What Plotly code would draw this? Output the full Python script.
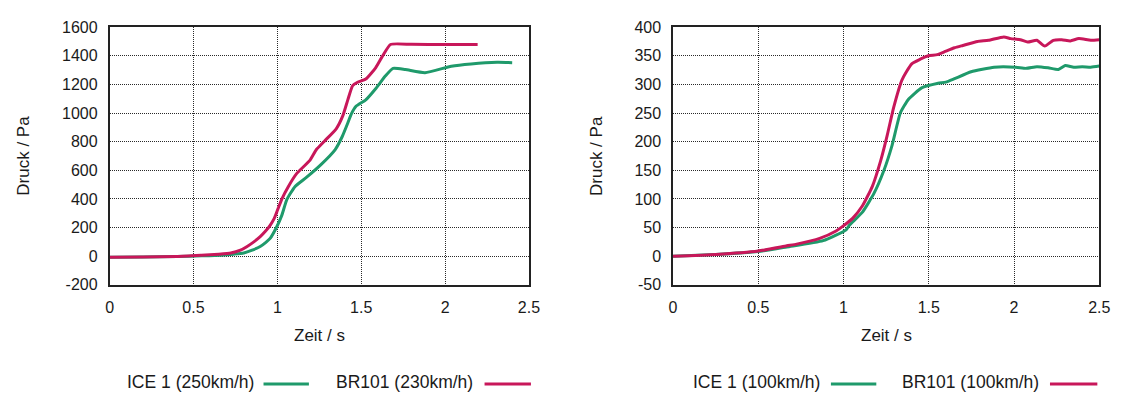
import plotly.graph_objects as go

# ---------------- data ----------------
# Left panel: ICE 1 (250km/h) and BR101 (230km/h)
left_ice_t = [0, 0.2, 0.4, 0.55, 0.665, 0.74, 0.80, 0.85, 0.898, 0.93, 0.957, 0.996, 1.026, 1.057,
              1.106, 1.175, 1.26, 1.345, 1.387, 1.42, 1.44, 1.469, 1.527, 1.586, 1.645, 1.69, 1.763,
              1.88, 2.037, 2.155, 2.31, 2.40]
left_ice_p = [-8, -6, -3, 2, 7, 14, 22, 42, 68, 95, 124, 204, 283, 397,
              487, 552, 640, 745, 836, 930, 991, 1047, 1092, 1170, 1260, 1312, 1304,
              1282, 1327, 1343, 1354, 1352]

left_br_t = [0, 0.2, 0.4, 0.547, 0.65, 0.723, 0.78, 0.82, 0.86, 0.898, 0.93, 0.957, 0.98, 0.996,
             1.026, 1.066, 1.116, 1.194, 1.233, 1.282, 1.351, 1.39, 1.42, 1.449, 1.478, 1.527,
             1.586, 1.625, 1.675, 1.8, 2.0, 2.194]
left_br_p = [-8, -6, -2, 7, 14, 22, 42, 68, 100, 136, 175, 215, 260, 306,
             397, 487, 578, 669, 745, 805, 890, 980, 1092, 1192, 1215, 1237,
             1316, 1394, 1479, 1480, 1479, 1479]

# Right panel: ICE 1 (100km/h) and BR101 (100km/h)
right_ice_t = [0, 0.25, 0.5, 0.667, 0.88, 1.015, 1.034, 1.111, 1.179, 1.237, 1.285, 1.333, 1.381,
               1.458, 1.555, 1.60, 1.651, 1.748, 1.883, 2.008, 2.07, 2.134, 2.2, 2.26, 2.3, 2.35,
               2.4, 2.45, 2.5]
right_ice_p = [0, 3, 8, 16, 27, 46, 54, 77, 110, 150, 194, 250, 274,
               294, 302, 304, 310, 322, 330, 330, 328, 331, 329, 326, 333, 330,
               331, 330, 332]

right_br_t = [0, 0.25, 0.5, 0.667, 0.725, 0.86, 0.956, 0.995, 1.053, 1.111, 1.169, 1.217, 1.256,
              1.294, 1.343, 1.4, 1.45, 1.497, 1.55, 1.6, 1.651, 1.7, 1.786, 1.85, 1.94, 1.98,
              2.037, 2.08, 2.134, 2.18, 2.23, 2.28, 2.33, 2.38, 2.45, 2.5]
right_br_p = [0, 3, 9, 18, 21, 31, 44, 52, 66, 88, 122, 166, 211,
              260, 308, 336, 344, 350, 352, 358, 364, 368, 375, 377, 383, 380,
              378, 374, 377, 367, 377, 378, 376, 380, 377, 378]

left_names = ["ICE 1 (250km/h)", "BR101 (230km/h)"]
right_names = ["ICE 1 (100km/h)", "BR101 (100km/h)"]

x_title = "Zeit / s"
y_title = "Druck / Pa"

x_tickvals = [0, 0.5, 1, 1.5, 2, 2.5]
x_ticktext = ["0", "0.5", "1", "1.5", "2", "2.5"]
left_tickvals = [-200, 0, 200, 400, 600, 800, 1000, 1200, 1400, 1600]
left_ticktext = ["-200", "0", "200", "400", "600", "800", "1000", "1200", "1400", "1600"]
right_tickvals = [-50, 0, 50, 100, 150, 200, 250, 300, 350, 400]
right_ticktext = ["-50", "0", "50", "100", "150", "200", "250", "300", "350", "400"]

left_yrange = [-200, 1600]
right_yrange = [-50, 400]
x_range = [0, 2.5]

# ---------------- styling ----------------
W, H = 1134, 402
GREEN = "#1f9a6b"
RED = "#c8175a"
FONT = "Liberation Sans, Arial, sans-serif"

def px(x):
    return x / W

def py(y):
    return 1 - y / H

# plot areas in pixels
L_X0, L_X1 = 107, 532
R_X0, R_X1 = 678, 1110
Y_TOP, Y_BOT = 20, 289

fig = go.Figure()

line_kw = dict(width=3, shape="spline", smoothing=0.5)
fig.add_trace(go.Scatter(x=left_ice_t, y=left_ice_p, mode="lines", name=left_names[0],
                         line=dict(color=GREEN, **line_kw), xaxis="x", yaxis="y"))
fig.add_trace(go.Scatter(x=left_br_t, y=left_br_p, mode="lines", name=left_names[1],
                         line=dict(color=RED, **line_kw), xaxis="x", yaxis="y"))
fig.add_trace(go.Scatter(x=right_ice_t, y=right_ice_p, mode="lines", name=right_names[0],
                         line=dict(color=GREEN, **line_kw), xaxis="x2", yaxis="y2"))
fig.add_trace(go.Scatter(x=right_br_t, y=right_br_p, mode="lines", name=right_names[1],
                         line=dict(color=RED, **line_kw), xaxis="x2", yaxis="y2"))

common_axis = dict(
    showgrid=True, gridcolor="#2a2a2a", gridwidth=1, griddash="1px,1px",
    zeroline=False, showline=True, mirror=True, linecolor="#222222", linewidth=1.5,
    ticks="outside", ticklen=7, tickcolor="rgba(0,0,0,0)",
    tickfont=dict(family=FONT, size=16, color="#1a1a1a"),
    tickmode="array",
)

fig.update_layout(
    width=W, height=H,
    margin=dict(l=0, r=0, t=0, b=0),
    paper_bgcolor="white", plot_bgcolor="white",
    showlegend=False,
    xaxis=dict(domain=[px(L_X0), px(L_X1)], range=x_range, anchor="y",
               tickvals=x_tickvals, ticktext=x_ticktext, **common_axis),
    yaxis=dict(domain=[py(Y_BOT), py(Y_TOP)], range=left_yrange, anchor="x",
               tickvals=left_tickvals, ticktext=left_ticktext, **common_axis),
    xaxis2=dict(domain=[px(R_X0), px(R_X1)], range=x_range, anchor="y2",
                tickvals=x_tickvals, ticktext=x_ticktext, **common_axis),
    yaxis2=dict(domain=[py(Y_BOT), py(Y_TOP)], range=right_yrange, anchor="x2",
                tickvals=right_tickvals, ticktext=right_ticktext, **common_axis),
)

annotations = []
shapes = []
title_font = dict(family=FONT, size=17, color="#1a1a1a")
legend_font = dict(family=FONT, size=17.5, color="#1a1a1a")

for x0, x1, ytitle_x in [(L_X0, L_X1, 20), (R_X0, R_X1, 601)]:
    annotations.append(dict(text=x_title, xref="paper", yref="paper",
                            x=px((x0 + x1) / 2), y=py(342), xanchor="center", yanchor="middle",
                            showarrow=False, font=title_font))
    annotations.append(dict(text=y_title, xref="paper", yref="paper", textangle=-90,
                            x=px(ytitle_x), y=py((Y_TOP + Y_BOT) / 2), xanchor="center",
                            yanchor="middle", showarrow=False, font=title_font))

# custom legends: text followed by a line sample
legend_items = [
    (left_names[0], 255, 263, 309, GREEN),
    (left_names[1], 477, 487, 534, RED),
    (right_names[0], 829, 838, 884, GREEN),
    (right_names[1], 1051, 1060, 1108, RED),
]
for name, text_end, l0, l1, col in legend_items:
    annotations.append(dict(text=name, xref="paper", yref="paper", x=px(text_end), y=py(390),
                            xanchor="right", yanchor="middle", showarrow=False, font=legend_font))
    shapes.append(dict(type="line", xref="paper", yref="paper", x0=px(l0), x1=px(l1),
                       y0=py(392.5), y1=py(392.5), line=dict(color=col, width=3)))

fig.update_layout(annotations=annotations, shapes=shapes)

fig.write_html("out.html")
